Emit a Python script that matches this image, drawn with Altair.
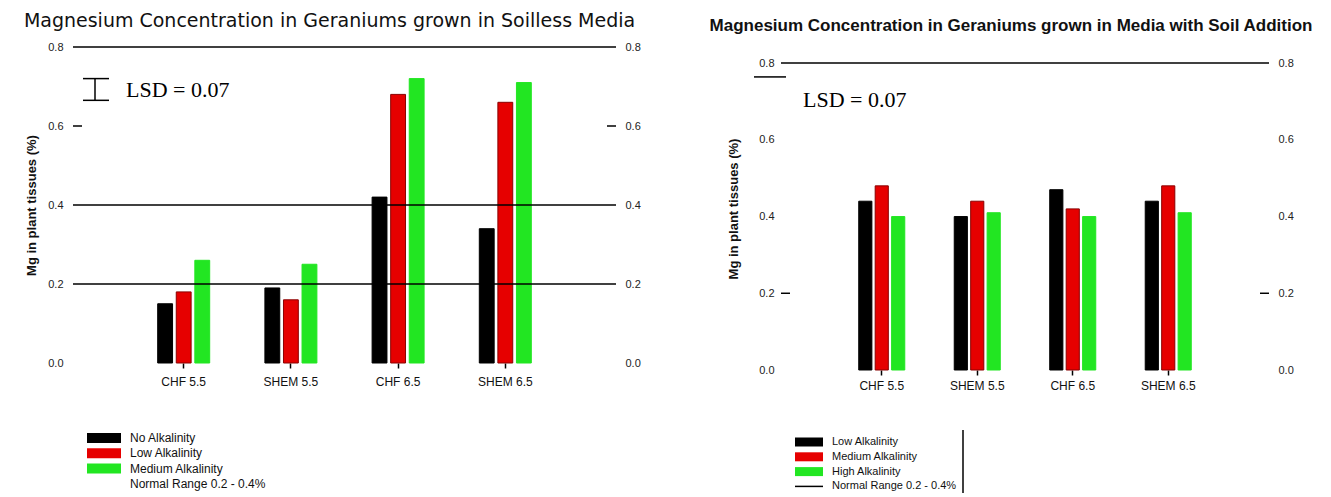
import altair as alt
import pandas as pd

# ---------------- data ----------------
categories = ["CHF 5.5", "SHEM 5.5", "CHF 6.5", "SHEM 6.5"]

series_left = ["No Alkalinity", "Low Alkalinity", "Medium Alkalinity"]
left_no = [0.15, 0.19, 0.42, 0.34]
left_low = [0.18, 0.16, 0.68, 0.66]
left_med = [0.26, 0.25, 0.72, 0.71]

series_right = ["Low Alkalinity", "Medium Alkalinity", "High Alkalinity"]
right_low = [0.44, 0.40, 0.47, 0.44]
right_med = [0.48, 0.44, 0.42, 0.48]
right_high = [0.40, 0.41, 0.40, 0.41]

y_ticks = [0.0, 0.2, 0.4, 0.6, 0.8]
left_full_lines = [0.8, 0.4, 0.2]
left_stub_lines = [0.6]
right_full_lines = [0.8]
right_stub_lines = [0.2]

lsd = 0.07
left_lsd_bar = [0.665, 0.72]
right_lsd_mark = [0.764]
normal_label = "Normal Range 0.2 - 0.4%"

title_left = "Magnesium Concentration in Geraniums grown in Soilless Media"
title_right = "Magnesium Concentration in Geraniums grown in Media with Soil Addition"
y_title = "Mg in plant tissues (%)"

colors = ["#000000", "#e60000", "#22e622"]
strokes = ["#000000", "#8a0000", "#22e622"]

SANS = "Liberation Sans"
SERIF = "Liberation Serif"


def long_df(series, cols):
    rows = []
    for s, vals in zip(series, cols):
        for c, v in zip(categories, vals):
            rows.append({"cat": c, "series": s, "value": v})
    return pd.DataFrame(rows)


def panel_layers(series, cols, width, ymax, pin, pout, lab_pad_x, lab_pad_y,
                 title_pad_y, full_lines, stub_lines, legend_x, legend_y0,
                 legend_step, legend_font, sw_w, sw_h, line_legend):
    df = long_df(series, cols)
    yscale = alt.Scale(domain=[0, ymax], nice=False, zero=True)
    bars = alt.Chart(df).mark_bar(strokeWidth=1).encode(
        x=alt.X("cat:N", sort=categories,
                scale=alt.Scale(paddingInner=pin, paddingOuter=pout),
                axis=alt.Axis(title=None, domain=False, ticks=True, tickSize=5,
                              tickWidth=1.5, tickColor="black", labelAngle=0,
                              labelFontSize=12, labelFont=SANS, labelColor="#111",
                              labelPadding=lab_pad_x, grid=False)),
        xOffset=alt.XOffset("series:N", sort=series,
                            scale=alt.Scale(paddingInner=0.2, paddingOuter=0)),
        y=alt.Y("value:Q", scale=yscale,
                axis=alt.Axis(orient="left", values=y_ticks, format=".1f",
                              title=y_title, domain=False, ticks=False, grid=False,
                              labelPadding=lab_pad_y, labelFontSize=11, labelFont=SANS,
                              labelColor="#222", titleFontSize=13, titleFont=SANS,
                              titleFontWeight="bold", titleColor="#111",
                              titlePadding=title_pad_y)),
        color=alt.Color("series:N", scale=alt.Scale(domain=series, range=colors), legend=None),
        stroke=alt.Stroke("series:N", scale=alt.Scale(domain=series, range=strokes), legend=None),
    )
    full = alt.Chart(pd.DataFrame({"v": full_lines})).mark_rule(
        color="black", strokeWidth=1.5).encode(
        y=alt.Y("v:Q", scale=yscale,
                axis=alt.Axis(orient="right", values=y_ticks, format=".1f", title=None,
                              domain=False, ticks=False, grid=False, labelPadding=9,
                              labelFontSize=11, labelFont=SANS, labelColor="#222")))
    stub_df = pd.DataFrame({"v": stub_lines})
    stub_l = alt.Chart(stub_df).mark_rule(color="black", strokeWidth=1.5).encode(
        y=alt.Y("v:Q", axis=None), x=alt.value(0), x2=alt.value(9))
    stub_r = alt.Chart(stub_df).mark_rule(color="black", strokeWidth=1.5).encode(
        y=alt.Y("v:Q", axis=None), x=alt.value(width - 9), x2=alt.value(width))
    layers = [bars, full, stub_l, stub_r]

    # legend
    for i, (s, c) in enumerate(zip(series, colors)):
        yc = legend_y0 + i * legend_step
        d = pd.DataFrame({"t": [s]})
        layers.append(alt.Chart(d).mark_rect(color=c).encode(
            x=alt.value(legend_x), x2=alt.value(legend_x + sw_w),
            y=alt.value(yc - sw_h / 2), y2=alt.value(yc + sw_h / 2)))
        layers.append(alt.Chart(d).mark_text(align="left", baseline="middle",
                                             font=SANS, fontSize=legend_font,
                                             color="#111").encode(
            text="t:N", x=alt.value(legend_x + sw_w + 9), y=alt.value(yc)))
    yc = legend_y0 + 3 * legend_step
    d = pd.DataFrame({"t": [normal_label]})
    if line_legend:
        layers.append(alt.Chart(d).mark_rule(color="black", strokeWidth=1.5).encode(
            x=alt.value(legend_x), x2=alt.value(legend_x + sw_w), y=alt.value(yc)))
    layers.append(alt.Chart(d).mark_text(align="left", baseline="middle", font=SANS,
                                         fontSize=legend_font, color="#111").encode(
        text="t:N", x=alt.value(legend_x + sw_w + 9), y=alt.value(yc)))
    return layers


# ---------- left panel ----------
LW, LH = 543, 316
llayers = panel_layers(series_left, [left_no, left_low, left_med], LW, 0.8,
                       0.515, 0.79, 8, 10, 9, left_full_lines, left_stub_lines,
                       14, 391, 15.3, 12, 34, 10, False)
lsd_df = pd.DataFrame({"lo": [left_lsd_bar[0]], "hi": [left_lsd_bar[1]],
                       "t": [f"LSD = {lsd:.2f}"]})
lsd_v = alt.Chart(lsd_df).mark_rule(color="black", strokeWidth=1.5).encode(
    x=alt.value(22), y=alt.Y("lo:Q", axis=None), y2="hi:Q")
lsd_top = alt.Chart(lsd_df).mark_rule(color="black", strokeWidth=1.5).encode(
    x=alt.value(10), x2=alt.value(36), y=alt.Y("hi:Q", axis=None))
lsd_bot = alt.Chart(lsd_df).mark_rule(color="black", strokeWidth=1.5).encode(
    x=alt.value(10), x2=alt.value(36), y=alt.Y("lo:Q", axis=None))
lsd_txt = alt.Chart(lsd_df).mark_text(align="left", baseline="middle", font=SERIF,
                                      fontSize=22, color="black").encode(
    text="t:N", x=alt.value(53), y=alt.value(43))
left = alt.layer(*llayers, lsd_v, lsd_top, lsd_bot, lsd_txt).properties(
    width=LW, height=LH,
    title=alt.TitleParams(title_left, fontSize=19, font="DejaVu Sans",
                          fontWeight="normal", anchor="middle", offset=10, dx=-15,
                          color="#111")
).resolve_axis(y="independent")

# ---------- right panel ----------
RW, RH = 488, 323
RMAX = 0.842
rlayers = panel_layers(series_right, [right_low, right_med, right_high], RW, RMAX,
                       0.518, 0.814, 5, 7, 18, right_full_lines, right_stub_lines,
                       14, 395, 14.8, 11, 28, 9, True)
rl_df = pd.DataFrame({"v": right_lsd_mark, "t": [f"LSD = {lsd:.2f}"]})
r_lsd_line = alt.Chart(rl_df).mark_rule(color="black", strokeWidth=1.5).encode(
    x=alt.value(-27), x2=alt.value(5), y=alt.Y("v:Q", axis=None))
r_lsd_txt = alt.Chart(rl_df).mark_text(align="left", baseline="middle", font=SERIF,
                                       fontSize=22, color="black").encode(
    text="t:N", x=alt.value(22), y=alt.value(53))
r_vline = alt.Chart(rl_df).mark_rule(color="black", strokeWidth=1.5).encode(
    x=alt.value(182), y=alt.value(383), y2=alt.value(446))
right = alt.layer(*rlayers, r_lsd_line, r_lsd_txt, r_vline).properties(
    width=RW, height=RH,
    title=alt.TitleParams(title_right, fontSize=17, font=SANS, fontWeight="bold",
                          anchor="middle", offset=12, dx=-14, color="#111")
).resolve_axis(y="independent")

chart = alt.hconcat(left, right, spacing=68).resolve_scale(
    color="independent", stroke="independent", xOffset="independent",
    x="independent", y="independent"
).properties(
    padding={"left": 15, "top": 4, "right": 0, "bottom": 0}
).configure(background="white").configure_view(strokeWidth=0, stroke=None)

chart.save("out.html", embed_options={"renderer": "svg", "actions": False})
